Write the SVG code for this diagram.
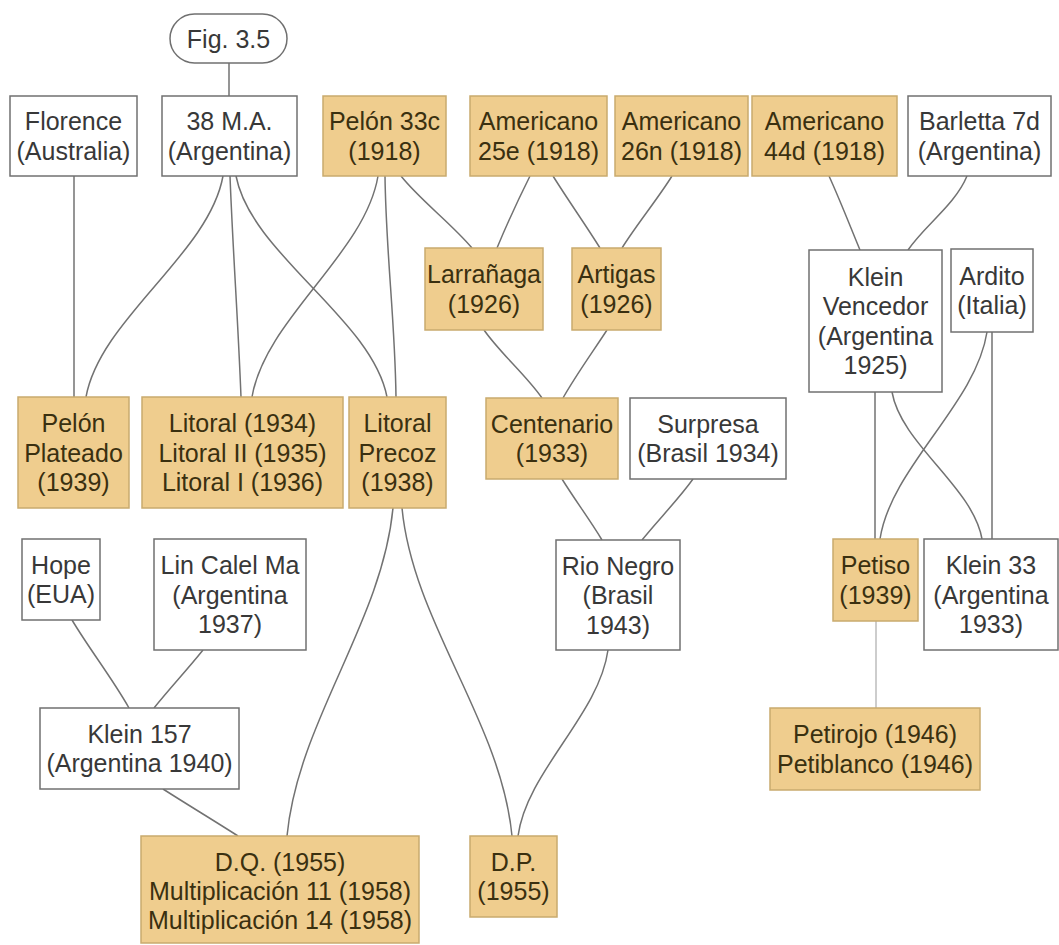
<svg xmlns="http://www.w3.org/2000/svg" width="1059" height="945" viewBox="0 0 1059 945">
  <style>
    .box { fill: #ffffff; stroke: #707070; stroke-width: 1.5; }
    .tan { fill: #efcd8e; stroke: #c9aa6e; stroke-width: 1.5; }
    .lbl { font-family: "Liberation Sans", Arial, sans-serif; font-size: 25px; fill: #383838; text-anchor: middle; }
    .tan-lbl { fill: #3a3010; }
    .edge { fill: none; stroke: #727272; stroke-width: 1.5; }
    .edge-light { fill: none; stroke: #bdbdbd; stroke-width: 1.5; }
  </style>
  <rect width="1059" height="945" fill="#ffffff"/>

  <!-- connectors -->
  <g id="connectors">
    <path class="edge" d="M229 63 L229 96"/>
    <path class="edge" d="M74 176 L74 397"/>
    <path class="edge" d="M223 176 C209 254 100 319 86 397"/>
    <path class="edge" d="M230 176 C233 254 238 319 241 397"/>
    <path class="edge" d="M236 176 C251 254 372 319 387 397"/>
    <path class="edge" d="M378 176 C365 254 265 319 252 397"/>
    <path class="edge" d="M385 176 C386 254 395 319 396 397"/>
    <path class="edge" d="M401 176 C420 200 452 224 472 248"/>
    <path class="edge" d="M530 176 C518 200 507 224 497 248"/>
    <path class="edge" d="M553 176 C568 200 585 224 600 248"/>
    <path class="edge" d="M672 176 C657 200 637 224 622 248"/>
    <path class="edge" d="M829 176 C840 200 850 226 860 250"/>
    <path class="edge" d="M967 176 C955 205 925 225 908 250"/>
    <path class="edge" d="M484 330 C500 353 526 375 542 398"/>
    <path class="edge" d="M607 330 C592 353 576 375 563 398"/>
    <path class="edge" d="M875 392 L875 539"/>
    <path class="edge" d="M892 392 C901 444 973 487 982 539"/>
    <path class="edge" d="M987 332 C976 404 891 467 880 539"/>
    <path class="edge" d="M992 332 L992 539"/>
    <path class="edge" d="M562 479 C575 500 590 520 602 540"/>
    <path class="edge" d="M693 479 C678 500 658 520 642 540"/>
    <path class="edge" d="M393 508 C382 623 298 721 287 836"/>
    <path class="edge" d="M402 508 C413 623 501 721 512 836"/>
    <path class="edge" d="M608 650 C599 715 527 771 518 836"/>
    <path class="edge" d="M72 620 C90 650 112 678 129 708"/>
    <path class="edge" d="M203 650 C187 670 170 688 154 708"/>
    <path class="edge" d="M163 789 C188 805 213 820 238 836"/>
    <path class="edge-light" d="M876 621 L876 708"/>
  </g>

  <!-- nodes -->
  <g id="fig">
    <rect class="box" x="170" y="14" width="117" height="49" rx="24.5"/>
    <text class="lbl" x="228.5" y="48">Fig. 3.5</text>
  </g>
  <g id="florence">
    <rect class="box" x="10" y="96" width="127" height="80"/>
    <text class="lbl" x="73.5" y="130.3">Florence<tspan x="73.5" dy="29.5">(Australia)</tspan></text>
  </g>
  <g id="ma38">
    <rect class="box" x="162" y="96" width="135" height="80"/>
    <text class="lbl" x="229.5" y="130.3">38 M.A.<tspan x="229.5" dy="29.5">(Argentina)</tspan></text>
  </g>
  <g id="pelon33c">
    <rect class="tan" x="323" y="96" width="123" height="80"/>
    <text class="lbl tan-lbl" x="384.5" y="130.3">Pelón 33c<tspan x="384.5" dy="29.5">(1918)</tspan></text>
  </g>
  <g id="americano25e">
    <rect class="tan" x="470" y="96" width="137" height="80"/>
    <text class="lbl tan-lbl" x="538.5" y="130.3">Americano<tspan x="538.5" dy="29.5">25e (1918)</tspan></text>
  </g>
  <g id="americano26n">
    <rect class="tan" x="615" y="96" width="133" height="80"/>
    <text class="lbl tan-lbl" x="681.5" y="130.3">Americano<tspan x="681.5" dy="29.5">26n (1918)</tspan></text>
  </g>
  <g id="americano44d">
    <rect class="tan" x="752" y="96" width="145" height="80"/>
    <text class="lbl tan-lbl" x="824.5" y="130.3">Americano<tspan x="824.5" dy="29.5">44d (1918)</tspan></text>
  </g>
  <g id="barletta">
    <rect class="box" x="908" y="96" width="143" height="80"/>
    <text class="lbl" x="979.5" y="130.3">Barletta 7d<tspan x="979.5" dy="29.5">(Argentina)</tspan></text>
  </g>
  <g id="larranaga">
    <rect class="tan" x="425" y="248" width="118" height="82"/>
    <text class="lbl tan-lbl" x="484" y="283.3">Larrañaga<tspan x="484" dy="29.5">(1926)</tspan></text>
  </g>
  <g id="artigas">
    <rect class="tan" x="572" y="248" width="89" height="82"/>
    <text class="lbl tan-lbl" x="616.5" y="283.3">Artigas<tspan x="616.5" dy="29.5">(1926)</tspan></text>
  </g>
  <g id="klein-vencedor">
    <rect class="box" x="809" y="250" width="133" height="142"/>
    <text class="lbl" x="875.5" y="285.8">Klein<tspan x="875.5" dy="29.5">Vencedor</tspan><tspan x="875.5" dy="29.5">(Argentina</tspan><tspan x="875.5" dy="29.5">1925)</tspan></text>
  </g>
  <g id="ardito">
    <rect class="box" x="951" y="249" width="82" height="83"/>
    <text class="lbl" x="992" y="284.8">Ardito<tspan x="992" dy="29.5">(Italia)</tspan></text>
  </g>
  <g id="pelon-plateado">
    <rect class="tan" x="18" y="397" width="111" height="111"/>
    <text class="lbl tan-lbl" x="73.5" y="432">Pelón<tspan x="73.5" dy="29.5">Plateado</tspan><tspan x="73.5" dy="29.5">(1939)</tspan></text>
  </g>
  <g id="litoral">
    <rect class="tan" x="142" y="397" width="201" height="111"/>
    <text class="lbl tan-lbl" x="242.5" y="432">Litoral (1934)<tspan x="242.5" dy="29.5">Litoral II (1935)</tspan><tspan x="242.5" dy="29.5">Litoral I (1936)</tspan></text>
  </g>
  <g id="litoral-precoz">
    <rect class="tan" x="349" y="397" width="97" height="111"/>
    <text class="lbl tan-lbl" x="397.5" y="432">Litoral<tspan x="397.5" dy="29.5">Precoz</tspan><tspan x="397.5" dy="29.5">(1938)</tspan></text>
  </g>
  <g id="centenario">
    <rect class="tan" x="486" y="398" width="132" height="81"/>
    <text class="lbl tan-lbl" x="552" y="432.8">Centenario<tspan x="552" dy="29.5">(1933)</tspan></text>
  </g>
  <g id="surpresa">
    <rect class="box" x="630" y="398" width="156" height="81"/>
    <text class="lbl" x="708" y="432.8">Surpresa<tspan x="708" dy="29.5">(Brasil 1934)</tspan></text>
  </g>
  <g id="hope">
    <rect class="box" x="22" y="539" width="78" height="81"/>
    <text class="lbl" x="61" y="573.8">Hope<tspan x="61" dy="29.5">(EUA)</tspan></text>
  </g>
  <g id="lin-calel-ma">
    <rect class="box" x="154" y="539" width="152" height="111"/>
    <text class="lbl" x="230" y="574">Lin Calel Ma<tspan x="230" dy="29.5">(Argentina</tspan><tspan x="230" dy="29.5">1937)</tspan></text>
  </g>
  <g id="rio-negro">
    <rect class="box" x="556" y="540" width="124" height="110"/>
    <text class="lbl" x="618" y="574.5">Rio Negro<tspan x="618" dy="29.5">(Brasil</tspan><tspan x="618" dy="29.5">1943)</tspan></text>
  </g>
  <g id="petiso">
    <rect class="tan" x="833" y="539" width="85" height="82"/>
    <text class="lbl tan-lbl" x="875.5" y="574.3">Petiso<tspan x="875.5" dy="29.5">(1939)</tspan></text>
  </g>
  <g id="klein33">
    <rect class="box" x="924" y="539" width="134" height="111"/>
    <text class="lbl" x="991" y="574">Klein 33<tspan x="991" dy="29.5">(Argentina</tspan><tspan x="991" dy="29.5">1933)</tspan></text>
  </g>
  <g id="klein157">
    <rect class="box" x="40" y="708" width="199" height="81"/>
    <text class="lbl" x="139.5" y="742.8">Klein 157<tspan x="139.5" dy="29.5">(Argentina 1940)</tspan></text>
  </g>
  <g id="petirojo">
    <rect class="tan" x="770" y="708" width="210" height="82"/>
    <text class="lbl tan-lbl" x="875" y="743.3">Petirojo (1946)<tspan x="875" dy="29.5">Petiblanco (1946)</tspan></text>
  </g>
  <g id="dq">
    <rect class="tan" x="141" y="836" width="278" height="107"/>
    <text class="lbl tan-lbl" x="280" y="870.5">D.Q. (1955)<tspan x="280" dy="29">Multiplicación 11 (1958)</tspan><tspan x="280" dy="29">Multiplicación 14 (1958)</tspan></text>
  </g>
  <g id="dp">
    <rect class="tan" x="470" y="836" width="87" height="81"/>
    <text class="lbl tan-lbl" x="513.5" y="870.8">D.P.<tspan x="513.5" dy="29.5">(1955)</tspan></text>
  </g>
</svg>
